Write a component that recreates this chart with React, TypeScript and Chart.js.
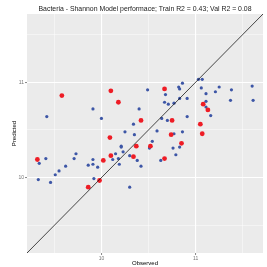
import React, { useEffect, useRef } from "react";
import { Chart, registerables } from "chart.js";

Chart.register(...registerables);

const titleText = "Bacteria - Shannon Model performace; Train R2 = 0.43; Val R2 = 0.08";
const xAxisTitle = "Observed";
const yAxisTitle = "Predicted";
const axisMin = 9.21;
const axisMax = 11.715;
const tickValues = [9.5, 10, 10.5, 11, 11.5];
const majorTicks = [10, 11];

const trainObserved = [
  9.42, 9.91, 10.0, 10.49, 10.82, 10.83, 10.86, 10.68, 10.83, 10.67, 10.71, 10.77, 10.4, 10.34, 10.64, 10.7,
  11.03, 11.07, 11.06, 11.25, 11.38, 11.6, 10.91, 11.11, 11.21, 11.37, 11.61, 11.11, 11.11, 11.16, 10.91,
  10.25, 10.35, 10.59, 10.77, 10.86, 10.21, 10.21, 10.54, 10.51, 10.83, 10.76, 10.23, 10.15, 10.12, 10.3,
  10.18, 10.38, 10.79, 10.63, 10.19, 10.42, 10.3, 9.34, 9.41, 9.33, 9.46, 9.51, 9.55, 9.62, 9.71, 9.73,
  9.86, 9.91, 9.91, 9.96, 9.92,
];
const trainPredicted = [
  10.64, 10.72, 10.62, 10.92, 10.95, 10.93, 10.99, 10.87, 10.83, 10.79, 10.77, 10.78, 10.72, 10.56, 10.62, 10.6,
  11.03, 11.03, 10.94, 10.95, 10.92, 10.96, 10.83, 10.88, 10.9, 10.81, 10.81, 10.8, 10.74, 10.65, 10.64,
  10.48, 10.45, 10.49, 10.46, 10.48, 10.33, 10.32, 10.38, 10.31, 10.32, 10.31, 10.27, 10.25, 10.19, 10.23,
  10.2, 10.18, 10.24, 10.18, 10.14, 10.12, 9.9, 10.15, 10.2, 9.98, 9.95, 10.03, 10.07, 10.12, 10.2, 10.25,
  10.13, 10.19, 10.14, 10.11, 9.99,
];
const valObserved = [
  9.58, 10.1, 10.18, 10.67, 10.42, 10.75, 11.08, 11.13, 11.05, 11.07, 10.74, 10.85, 10.09, 10.37, 10.52, 10.1,
  10.34, 10.67, 9.32, 10.02, 9.98, 9.86,
];
const valPredicted = [
  10.86, 10.91, 10.79, 10.93, 10.6, 10.6, 10.77, 10.71, 10.56, 10.46, 10.45, 10.36, 10.42, 10.33, 10.33, 10.23,
  10.22, 10.2, 10.19, 10.18, 9.97, 9.9,
];

const FONT = "'Liberation Sans', Arial, sans-serif";

export default function App() {
  const ref = useRef<HTMLCanvasElement>(null);

  useEffect(() => {
    if (!ref.current) return;

    const panelBg = {
      id: "panelBg",
      beforeDraw(chart: any) {
        const { ctx, chartArea } = chart;
        ctx.save();
        ctx.fillStyle = "#EBEBEB";
        ctx.fillRect(chartArea.left, chartArea.top, chartArea.right - chartArea.left, chartArea.bottom - chartArea.top);
        ctx.restore();
      },
    };

    const ggTitle = {
      id: "ggTitle",
      afterDraw(chart: any) {
        const { ctx, chartArea } = chart;
        ctx.save();
        ctx.font = `6.9px ${FONT}`;
        ctx.fillStyle = "#1a1a1a";
        ctx.textAlign = "center";
        ctx.textBaseline = "middle";
        ctx.fillText(titleText, (chartArea.left + chartArea.right) / 2, 9.5);
        ctx.restore();
      },
    };

    const isMajor = (v: number) => majorTicks.some((m) => Math.abs(m - v) < 1e-9);

    const axisCommon = (titleTextStr: string, titlePad: any) => ({
      type: "linear" as const,
      min: axisMin,
      max: axisMax,
      afterBuildTicks: (scale: any) => {
        scale.ticks = tickValues.map((v) => ({ value: v }));
      },
      ticks: {
        autoSkip: false,
        maxRotation: 0,
        padding: 1,
        color: "#777777",
        font: { family: FONT, size: 5 },
        callback: (v: any) => (isMajor(Number(v)) ? String(v) : ""),
      },
      grid: {
        color: (c: any) => (c.tick && isMajor(c.tick.value) ? "#FFFFFF" : "rgba(255,255,255,0.75)"),
        lineWidth: (c: any) => (c.tick && isMajor(c.tick.value) ? 1.1 : 0.6),
        tickColor: (c: any) => (c.tick && isMajor(c.tick.value) ? "#333333" : "rgba(0,0,0,0)"),
        tickLength: 2,
        tickWidth: 0.6,
        drawTicks: true,
      },
      border: { display: false },
      title: {
        display: true,
        text: titleTextStr,
        color: "#000000",
        font: { family: FONT, size: 6 },
        padding: titlePad,
      },
    });

    const chart = new Chart(ref.current, {
      type: "scatter",
      data: {
        datasets: [
          {
            label: "identity",
            data: [
              { x: axisMin, y: axisMin },
              { x: axisMax, y: axisMax },
            ],
            showLine: true,
            borderColor: "#1a1a1a",
            borderWidth: 0.8,
            pointRadius: 0,
          },
          {
            label: "Validation",
            data: valObserved.map((x, i) => ({ x, y: valPredicted[i] })),
            backgroundColor: "#EE1C25",
            borderColor: "#EE1C25",
            borderWidth: 0,
            pointRadius: 2.4,
          },
          {
            label: "Train",
            data: trainObserved.map((x, i) => ({ x, y: trainPredicted[i] })),
            backgroundColor: "#3D56A6",
            borderColor: "#3D56A6",
            borderWidth: 0,
            pointRadius: 1.6,
          },
        ],
      },
      options: {
        responsive: false,
        animation: false,
        events: [],
        layout: { padding: { top: 14, right: 2, left: 0, bottom: 0 } },
        plugins: {
          legend: { display: false },
          tooltip: { enabled: false },
          title: { display: false },
        },
        scales: {
          x: {
            ...axisCommon(xAxisTitle, { top: 0, bottom: 0 }),
            position: "bottom",
            afterFit: (scale: any) => {
              scale.height = 14;
            },
          },
          y: {
            ...axisCommon(yAxisTitle, { top: 11, bottom: 0 }),
            position: "left",
            afterFit: (scale: any) => {
              scale.width = 27;
            },
          },
        },
      },
      plugins: [panelBg, ggTitle],
    } as any);

    return () => chart.destroy();
  }, []);

  return (
    <div style={{ position: "fixed", left: 0, top: 0, width: 267, height: 267, background: "#ffffff" }}>
      <canvas ref={ref} width={267} height={267} style={{ display: "block", width: 267, height: 267 }} />
    </div>
  );
}
